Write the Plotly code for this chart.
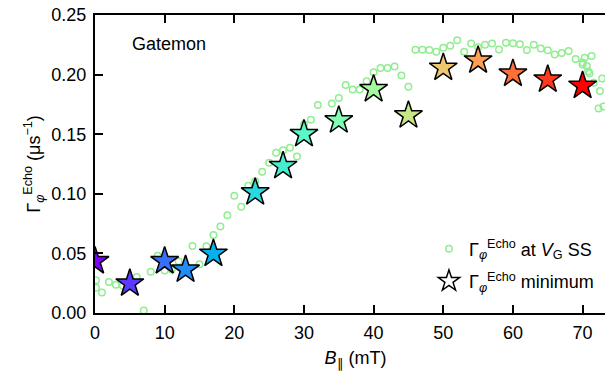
import math
import plotly.graph_objects as go

# ---- data ----
B_ss = [0.15, 0.15, 1, 2, 3, 4, 6, 7, 8, 9, 10, 11, 12, 14, 15, 16, 17, 18, 19, 20,
        21, 22, 23, 24, 25, 26, 27, 28, 29, 30, 31, 32, 34, 35, 36, 37, 38, 39, 40,
        41, 42, 43, 44, 45, 46, 47, 48, 49, 50, 51, 52, 53, 54, 55, 56, 57, 58, 59,
        60, 61, 62, 63, 64, 65, 66, 67, 68, 69, 70, 70, 70.3, 70.6, 70.8, 71.0,
        71.3, 71.6, 72.3, 72.5, 72.8, 73.0]
G_ss = [0.0275, 0.0212, 0.0173, 0.0261, 0.0236, 0.0228, 0.0303, 0.0021, 0.0346,
        0.0480, 0.0356, 0.0364, 0.0435, 0.0563, 0.0410, 0.0560, 0.0655, 0.0725,
        0.0820, 0.0984, 0.0891, 0.1067, 0.1106, 0.1185, 0.1260, 0.1345, 0.1366,
        0.1386, 0.1312, 0.1583, 0.1621, 0.1745, 0.1757, 0.1803, 0.1913, 0.1876,
        0.1876, 0.1944, 0.2019, 0.2056, 0.2056, 0.2068, 0.1992, 0.1898, 0.2209,
        0.2209, 0.2206, 0.2191, 0.2226, 0.2243, 0.2288, 0.2191, 0.2260, 0.2230,
        0.2251, 0.2261, 0.2211, 0.2268, 0.2263, 0.2255, 0.2206, 0.2250, 0.2220,
        0.2205, 0.2168, 0.2181, 0.2197, 0.2131, 0.2102, 0.2085, 0.2141, 0.2073,
        0.2027, 0.2011, 0.2155, 0.1931, 0.1716, 0.1863, 0.1967, 0.1733]

B_min = [0, 5, 10, 13, 17, 23, 27, 30, 35, 40, 45, 50, 55, 60, 65, 70]
G_min = [0.0435, 0.0248, 0.0435, 0.0364, 0.0497, 0.1012, 0.1233, 0.1501, 0.1616,
         0.1878, 0.1658, 0.2058, 0.2119, 0.2008, 0.1959, 0.1906]

x_ticks = [0, 10, 20, 30, 40, 50, 60, 70]
y_ticks = [0.00, 0.05, 0.10, 0.15, 0.20, 0.25]

# ---- rainbow colorscale (matplotlib 'rainbow') ----
def rainbow(t):
    r = min(1, abs(2 * t - 0.5))
    g = math.sin(math.pi * t)
    b = math.cos(math.pi * t / 2)
    return "rgb(%d,%d,%d)" % (round(r * 255), round(g * 255), round(b * 255))

cscale = [[i / 20, rainbow(i / 20)] for i in range(21)]

FONT = "Arial, Liberation Sans, sans-serif"

fig = go.Figure()

fig.add_trace(go.Scatter(
    x=B_ss, y=G_ss, mode="markers",
    marker=dict(symbol="circle-open", size=6.5, color="#90ee90",
                line=dict(width=1.5, color="#90ee90")),
    name="Γ<sub><i>φ</i></sub><sup>Echo</sup> at <i>V</i><sub>G</sub> SS",
    legendgroup="a", showlegend=True,
))

fig.add_trace(go.Scatter(
    x=B_min, y=G_min, mode="markers",
    marker=dict(symbol="star", size=21, color=B_min, colorscale=cscale,
                cmin=0, cmax=70, line=dict(width=1.5, color="black")),
    showlegend=False,
))

fig.add_trace(go.Scatter(
    x=[None], y=[None], mode="markers", yaxis="y2",
    marker=dict(symbol="star", size=21, color="white",
                line=dict(width=1.5, color="black")),
    name="Γ<sub><i>φ</i></sub><sup>Echo</sup> minimum",
    legendgroup="b", showlegend=True,
))

fig.add_annotation(x=5, y=0.2255, xref="x", yref="y", text="Gatemon",
                   showarrow=False, xanchor="left", yanchor="middle",
                   font=dict(size=18, color="black", family=FONT))

axis_common = dict(showgrid=False, zeroline=False, ticks="inside", ticklen=8,
                   tickwidth=2, tickcolor="black", linecolor="black",
                   linewidth=2, automargin=False, ticklabeloverflow="allow",
                   tickfont=dict(size=18, color="black", family=FONT))

fig.update_layout(
    width=613, height=373,
    margin=dict(l=87, r=5, t=7, b=68),
    paper_bgcolor="white", plot_bgcolor="white",
    font=dict(family=FONT, size=18, color="black"),
    xaxis=dict(range=[0, 74.8], tickvals=x_ticks,
               ticktext=[str(v) for v in x_ticks], showline=True, mirror="ticks",
               ticklabelstandoff=2,
               title=dict(text="<i>B</i><sub>∥</sub> (mT)",
                          font=dict(size=18, family=FONT), standoff=10),
               **axis_common),
    yaxis=dict(range=[0, 0.25], tickvals=y_ticks,
               ticktext=["%.2f" % v for v in y_ticks], showline=True, mirror=False,
               ticklabelstandoff=3,
               title=dict(text="Γ<sub><i>φ</i></sub><sup>Echo</sup> (μs<sup>−1</sup>)",
                          font=dict(size=18, family=FONT), standoff=6),
               **axis_common),
    yaxis2=dict(range=[0, 0.25], tickvals=y_ticks, overlaying="y", side="right",
                showticklabels=False, showline=False, showgrid=False, zeroline=False,
                ticks="inside", ticklen=8, tickwidth=2, tickcolor="black",
                automargin=False),
    legend=dict(x=0.641, xanchor="left", y=0.277, yanchor="top",
                bgcolor="rgba(0,0,0,0)", font=dict(size=18, family=FONT),
                tracegroupgap=6, itemsizing="trace"),
    showlegend=True,
)

fig.write_html("out.html")
